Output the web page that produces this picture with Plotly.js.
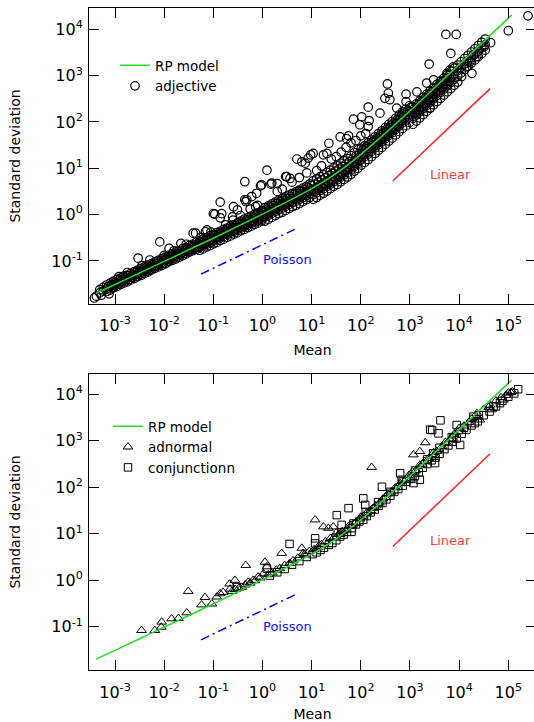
<!DOCTYPE html>
<html><head><meta charset="utf-8">
<script src="https://cdn.plot.ly/plotly-3.0.1.min.js"></script>
<style>html,body{margin:0;padding:0;overflow:hidden;background:#fff}</style>
</head><body><div id="chart" style="width:538px;height:722px"></div>
<script>
// ---------- DATA (log10 values) ----------
// Top panel: "adjective" – dense band, read column by column (log10 mean)
const bandLogMean = [-3.38,-3.31,-3.24,-3.17,-3.10,-3.03,-2.96,-2.89,-2.82,-2.75,
 -2.68,-2.61,-2.54,-2.47,-2.40,-2.33,-2.26,-2.19,-2.12,-2.05,
 -1.98,-1.91,-1.84,-1.77,-1.70,-1.63,-1.56,-1.49,-1.42,-1.35,
 -1.28,-1.21,-1.14,-1.07,-1.00,-0.93,-0.86,-0.79,-0.72,-0.65,
 -0.58,-0.51,-0.44,-0.37,-0.30,-0.23,-0.16,-0.09,-0.02,0.05,
 0.12,0.19,0.26,0.33,0.40,0.47,0.54,0.61,0.68,0.75,
 0.82,0.89,0.96,1.03,1.10,1.17,1.24,1.31,1.38,1.45,
 1.52,1.59,1.66,1.73,1.80,1.87,1.94,2.01,2.08,2.15,
 2.22,2.29,2.36,2.43,2.50,2.57,2.64,2.71,2.78,2.85,
 2.92,2.99,3.06,3.13,3.20,3.27,3.34,3.41,3.48,3.55,
 3.62,3.69,3.76,3.83,3.90,3.97,4.04,4.11,4.18,4.25,
 4.32,4.39,4.46,4.53];
// second set of band columns, in between the first ones
const bandLogMean2 = [-3.345,-3.275,-3.205,-3.135,-3.065,-2.995,-2.925,-2.855,-2.785,-2.715,
 -2.645,-2.575,-2.505,-2.435,-2.365,-2.295,-2.225,-2.155,-2.085,-2.015,
 -1.945,-1.875,-1.805,-1.735,-1.665,-1.595,-1.525,-1.455,-1.385,-1.315,
 -1.245,-1.175,-1.105,-1.035,-0.965,-0.895,-0.825,-0.755,-0.685,-0.615,
 -0.545,-0.475,-0.405,-0.335,-0.265,-0.195,-0.125,-0.055,0.015,0.085,
 0.155,0.225,0.295,0.365,0.435,0.505,0.575,0.645,0.715,0.785,
 0.855,0.925,0.995,1.065,1.135,1.205,1.275,1.345,1.415,1.485,
 1.555,1.625,1.695,1.765,1.835,1.905,1.975,2.045,2.115,2.185,
 2.255,2.325,2.395,2.465,2.535,2.605,2.675,2.745,2.815,2.885,
 2.955,3.025,3.095,3.165,3.235,3.305,3.375,3.445,3.515,3.585,
 3.655,3.725,3.795,3.865,3.935,4.005,4.075,4.145,4.215,4.285,
 4.355,4.425,4.495,4.565];
// log10 standard deviation of the band rows (first columns)
const bandLogSdA = [null,-1.62,-1.57,-1.52,-1.48,-1.44,-1.40,-1.37,-1.33,-1.31,
 -1.27,-1.23,-1.20,-1.16,-1.13,-1.09,-1.06,-1.02,-0.99,-0.95,
 -0.92,-0.88,-0.85,-0.81,-0.78,-0.74,-0.71,-0.67,-0.64,-0.60,
 -0.57,-0.53,-0.50,-0.46,-0.43,-0.39,-0.36,-0.32,-0.29,-0.25,
 -0.22,-0.18,-0.14,-0.10,-0.07,-0.03,0.01,0.04,0.08,0.15,
 0.19,0.23,0.27,0.31,0.34,0.38,0.42,0.46,0.49,0.53,
 0.57,0.61,0.66,0.73,0.77,0.82,0.86,0.91,0.96,1.01,
 1.05,1.11,1.16,1.21,1.27,1.34,1.40,1.43,1.49,1.55,
 1.61,1.68,1.75,1.81,1.88,1.95,2.01,2.08,2.15,2.22,
 2.28,2.35,2.32,2.39,2.46,2.53,2.60,2.67,2.74,2.81,
 2.88,2.95,3.02,3.09,3.16,3.23,3.30,3.37,3.44,3.51,
 3.58,3.65,3.72,3.79];
const bandLogSdB = [-1.76,-1.69,-1.65,-1.60,-1.56,-1.52,-1.48,-1.45,-1.41,-1.37,
 -1.35,-1.30,-1.27,-1.24,-1.20,-1.17,-1.13,-1.10,-1.06,-1.03,
 -0.99,-0.96,-0.92,-0.89,-0.85,-0.82,-0.78,-0.75,-0.71,-0.68,
 -0.64,-0.61,-0.57,-0.54,-0.50,-0.47,-0.43,-0.40,-0.36,-0.33,
 -0.29,-0.26,-0.22,-0.19,-0.15,-0.12,-0.08,-0.05,-0.01,0.04,
 0.08,0.12,0.16,0.20,0.23,0.27,0.31,0.35,0.38,0.42,
 0.46,0.50,0.55,0.53,0.57,0.62,0.66,0.71,0.76,0.81,
 0.85,0.91,0.96,1.01,1.07,1.14,1.20,1.31,1.37,1.43,
 1.49,1.56,1.63,1.69,1.76,1.83,1.89,1.96,2.03,2.10,
 2.16,2.23,2.20,2.27,2.34,2.41,2.48,2.55,2.62,2.69,
 2.76,2.83,2.90,2.97,3.04,3.11,3.18,3.25,3.32,3.39,
 3.46,3.53,3.60,3.67];
const bandLogSdC = [null,null,null,-1.66,-1.63,-1.58,-1.55,-1.51,-1.48,-1.45,
 -1.41,-1.38,-1.34,-1.31,-1.27,-1.24,-1.20,-1.16,-1.13,-1.10,
 -1.06,-1.02,-0.99,-0.96,-0.92,-0.89,-0.85,-0.81,-0.78,-0.75,
 -0.71,-0.68,-0.64,-0.61,-0.57,-0.54,-0.50,-0.47,-0.43,-0.40,
 -0.36,-0.33,-0.29,-0.26,-0.23,-0.19,-0.16,-0.13,-0.10,-0.05,
 -0.01,0.03,0.07,0.11,0.14,0.18,0.22,0.26,0.29,0.33,
 0.37,0.41,0.46,0.43,0.47,0.52,0.56,0.61,0.66,0.71,
 0.75,0.81,0.86,0.91,0.97,1.04,1.10,1.19,1.25,1.31,
 1.37,1.44,1.51,1.57,1.64,1.71,1.77,1.84,1.91,1.98,
 2.04,2.11,2.08,2.15,2.22,2.29,2.36,2.43,2.50,2.57,
 2.64,2.71,2.78,2.85,2.92,2.99,3.06,3.13,3.20,3.27,
 3.34,3.41,3.48,3.55];
const bandLogSdD = [null,null,null,null,null,null,null,null,null,null,
 null,null,null,null,null,null,null,null,null,null,
 null,null,null,null,null,null,null,null,null,null,
 -0.77,-0.74,-0.70,-0.67,-0.63,-0.60,-0.56,-0.53,-0.49,-0.46,
 -0.42,-0.39,-0.35,-0.32,-0.28,-0.25,-0.21,-0.18,-0.14,-0.14,
 -0.10,-0.06,-0.02,0.02,0.05,0.09,0.13,0.17,0.20,0.24,
 0.28,0.32,0.37,0.33,0.37,0.42,0.46,0.51,0.56,0.61,
 0.65,0.71,0.76,0.81,0.87,0.94,1.00,1.07,1.13,1.19,
 1.25,1.32,1.39,1.45,1.52,1.59,1.65,1.72,1.79,1.86,
 1.92,1.99,1.95,2.02,2.09,2.16,2.23,2.30,2.37,2.44,
 2.51,2.58,2.65,2.72,2.79,2.86,null,null,null,null,
 null,null,null,null];
// band rows on the in-between columns
const bandLogSdE = [null,null,null,-1.55,-1.51,-1.47,-1.43,-1.40,-1.36,-1.32,
 -1.30,-1.25,-1.22,-1.19,-1.15,-1.12,-1.08,-1.05,-1.01,-0.98,
 -0.94,-0.91,-0.87,-0.84,-0.80,-0.77,-0.73,-0.70,-0.66,-0.63,
 -0.59,-0.56,-0.52,-0.49,-0.45,-0.42,-0.38,-0.35,-0.31,-0.28,
 -0.24,-0.21,-0.17,-0.14,-0.10,-0.07,-0.03,0.00,0.04,0.12,
 0.16,0.20,0.24,0.28,0.31,0.35,0.39,0.43,0.46,0.50,
 0.54,0.58,0.63,0.66,0.70,0.75,0.79,0.84,0.89,0.94,
 0.98,1.04,1.09,1.14,1.20,1.27,1.33,1.40,1.46,1.52,
 1.58,1.65,1.72,1.78,1.85,1.92,1.98,2.05,2.12,2.19,
 2.25,2.32,2.30,2.37,2.44,2.51,2.58,2.65,2.72,2.79,
 2.86,2.93,3.00,null,null,null,null,null,null,null,
 null,null,null,null];
const bandLogSdF = [null,null,null,null,-1.58,-1.53,-1.50,-1.46,-1.43,-1.40,
 -1.36,-1.33,-1.29,-1.26,-1.22,-1.19,-1.15,-1.11,-1.08,-1.05,
 -1.01,-0.97,-0.94,-0.91,-0.87,-0.84,-0.80,-0.76,-0.73,-0.70,
 -0.66,-0.63,-0.59,-0.56,-0.52,-0.49,-0.45,-0.42,-0.38,-0.35,
 -0.31,-0.28,-0.24,-0.21,-0.18,-0.14,-0.11,-0.08,-0.05,0.02,
 0.06,0.10,0.14,0.18,0.21,0.25,0.29,0.33,0.36,0.40,
 0.44,0.48,0.53,0.51,0.55,0.60,0.64,0.69,0.74,0.79,
 0.83,0.89,0.94,0.99,1.05,1.12,1.18,1.28,1.34,1.40,
 1.46,1.53,1.60,1.66,1.73,1.80,1.86,1.93,2.00,2.07,
 2.13,2.20,2.18,2.25,2.32,2.39,2.46,2.53,2.60,2.67,
 2.74,2.81,2.88,null,null,null,null,null,null,null,
 null,null,null,null];
// Top panel: scattered "adjective" points away from the band (log10)
const adjOutLogMean = [-3.42,-3.28,-3.12,-2.92,-2.75,-2.53,-2.45,-2.29,-2.09,-2.00,-1.90,-1.80,-1.66,-1.55,-1.41,-1.36,-1.25,-1.16,-1.13,-1.05,
 -1.00,-0.97,-0.86,-0.83,-0.86,-0.75,-0.61,-0.60,-0.59,-0.51,-0.45,-0.36,-0.36,-0.34,-0.32,-0.25,-0.22,-0.14,-0.12,-0.10,-0.04,-0.02,
 0.09,0.17,0.19,0.30,0.30,0.40,0.47,0.49,0.56,0.60,0.70,0.75,0.80,0.87,0.90,0.93,0.98,1.03,1.10,1.20,1.24,1.31,1.35,1.40,1.50,1.58,1.60,1.70,1.71,1.75,1.80,1.85,1.90,1.98,2.00,2.02,2.10,2.15,2.15,2.17,
 2.39,2.49,2.54,2.56,2.59,2.73,2.92,2.92,3.14,3.20,3.34,3.39,3.41,3.48,3.73,3.94,3.83,3.75,3.81,3.88,4.05,4.15,4.22,4.26,4.29,4.36,4.51,4.64,5.00,5.40];
const adjOutLogSd = [-1.80,-1.74,-1.71,-1.34,-1.25,-0.94,-1.10,-0.98,-0.59,-0.88,-0.73,-0.78,-0.62,-0.64,-0.40,-0.40,-0.49,-0.37,-0.33,-0.38,
 0.02,0.01,0.27,0.02,-0.07,-0.22,-0.05,-0.12,0.17,0.10,-0.02,0.71,0.32,0.28,0.32,0.12,0.39,0.17,0.46,0.20,0.62,0.64,
 0.96,0.66,0.68,0.50,0.67,0.55,0.82,0.82,0.78,0.70,1.20,0.80,1.14,1.11,0.90,1.22,1.29,1.32,0.95,1.05,1.29,1.32,1.54,1.20,1.25,1.68,1.35,1.45,1.64,1.70,1.55,2.06,1.60,1.94,1.70,2.11,1.75,1.90,2.32,2.03,
 2.19,2.51,2.82,2.62,2.48,2.30,2.60,2.44,2.65,2.26,2.84,3.25,2.30,2.91,3.89,3.89,3.48,3.05,3.12,3.19,2.98,3.19,3.30,3.05,3.45,3.41,3.63,3.71,3.97,4.29];

// Bottom panel: "adnormal" (triangles), log10
const adnLogMean = [-2.46,-2.19,-2.06,-2.05,-1.85,-1.71,-1.54,-1.51,-1.24,-1.17,-1.03,-0.93,-0.86,-0.80,-0.67,-0.66,-0.62,-0.56,-0.55,-0.48,
 -0.42,-0.35,-0.34,-0.29,-0.25,-0.19,-0.15,-0.09,-0.05,0.02,0.05,0.09,0.12,0.20,0.28,0.35,0.39,0.45,0.55,0.62,
 0.72,0.80,0.83,0.85,0.95,1.05,1.07,1.12,1.20,1.24,1.28,1.34,1.38,1.44,1.46,1.50,1.55,1.62,1.70,1.75,
 1.80,1.90,1.98,2.00,2.05,2.12,2.20,2.22,2.25,2.30,2.38,2.45,2.50,2.55,2.62,2.70,2.75,2.80,2.90,2.98,
 3.00,3.05,3.07,3.12,3.20,3.20,3.25,3.30,3.31,3.38,3.48,3.50,3.55,3.65,3.72,3.75,3.82,3.90,3.98,4.00,
 4.10,4.20,4.25,4.35,4.36,4.42,4.50,4.60,4.63,4.66,4.75,4.85,4.90,4.95,5.00,5.05,5.08];
const adnLogSd = [-1.08,-1.08,-1.01,-0.90,-0.83,-0.82,-0.70,-0.24,-0.53,-0.37,-0.51,-0.36,-0.29,-0.26,-0.08,-0.19,-0.24,0.00,-0.20,-0.17,
 -0.15,-0.10,0.32,-0.04,-0.06,0.00,-0.01,0.07,0.05,0.14,0.39,0.29,0.12,0.16,0.22,0.25,0.58,0.32,0.36,0.42,
 0.48,0.69,0.58,0.55,0.62,0.66,1.30,0.70,0.77,1.15,0.83,1.12,0.90,1.15,0.93,1.02,0.99,1.05,1.08,1.16,
 1.18,1.25,1.32,1.36,1.38,1.45,1.50,2.43,1.55,1.60,1.66,1.75,1.78,1.86,1.90,1.99,2.00,2.08,2.15,2.26,
 2.18,2.33,2.70,2.36,2.48,2.77,2.50,2.56,2.96,2.62,2.75,2.68,2.78,2.88,2.97,2.95,3.03,3.14,3.20,3.27,
 3.32,3.40,3.47,3.52,3.59,3.45,3.68,3.72,3.77,3.67,3.86,3.93,3.88,3.98,4.03,4.04,4.06];
// Bottom panel: "conjunctionn" (squares), log10
const conjLogMean = [-0.52,0.09,0.15,0.30,0.45,0.55,0.60,0.75,0.90,1.02,1.07,1.07,1.10,1.18,1.25,1.35,1.42,1.50,1.51,1.58,
 1.60,1.61,1.65,1.72,1.75,1.81,1.82,1.85,1.90,1.97,2.05,2.05,2.09,2.10,2.12,2.20,2.28,2.35,2.36,2.43,
 2.44,2.52,2.60,2.60,2.68,2.76,2.80,2.83,2.85,2.85,2.93,3.02,3.07,3.10,3.10,3.18,3.20,3.26,3.35,3.35,
 3.41,3.44,3.45,3.47,3.51,3.52,3.58,3.60,3.60,3.62,3.70,3.78,3.85,3.86,3.88,3.95,3.95,4.02,4.05,4.10,
 4.15,4.25,4.29,4.32,4.38,4.40,4.50,4.62,4.70,4.75,4.83,4.88,5.00,5.12,5.20];
const conjLogSd = [-0.15,0.25,0.10,0.17,0.24,0.78,0.33,0.41,0.50,0.56,0.90,0.79,0.60,0.65,0.70,0.76,0.80,0.86,1.40,0.94,
 1.02,1.19,0.98,1.04,1.55,1.04,1.12,1.22,1.20,1.26,1.30,1.76,1.62,1.47,1.38,1.46,1.52,1.68,1.60,2.01,
 1.66,1.74,1.82,1.90,1.90,1.96,2.30,2.16,2.03,2.12,2.12,2.18,2.09,2.24,2.36,2.32,2.16,2.42,2.50,2.60,
 3.24,2.58,3.23,2.73,2.52,2.64,3.16,2.72,2.85,3.44,2.82,2.90,3.08,2.98,3.06,3.05,3.34,2.91,3.15,3.28,
 3.24,3.33,3.52,3.38,3.42,3.55,3.55,3.63,3.74,3.74,3.81,3.86,3.95,4.02,4.11];

// RP model curve (log10 mean, log10 sd)
const rpLogMean = [-3.39,-3.0,-2.5,-2.0,-1.5,-1.0,-0.5,0.0,0.5,1.0,1.5,2.0,2.5,3.0,3.5,4.0,4.5,5.07];
const rpLogSd   = [-1.70,-1.51,-1.26,-1.01,-0.76,-0.51,-0.25,0.01,0.28,0.56,0.89,1.30,1.76,2.24,2.74,3.24,3.74,4.31];
// Guide lines (end points)
const poissonMean = [0.056, 4.9],  poissonSd = [0.052, 0.50];
const linearMean  = [446, 42500],  linearSd  = [5.3, 525];
// Tick labels
const xTickExp = [-3,-2,-1,0,1,2,3,4,5];
const yTickExp = [-1,0,1,2,3,4];

// ---------- BUILD ----------
const p10 = v => Math.pow(10, v);
function pairs(xs, ys) {
  const X = [], Y = [];
  xs.forEach((x, i) => { if (ys[i] !== null && ys[i] !== undefined) { X.push(p10(x)); Y.push(p10(ys[i])); } });
  return [X, Y];
}
let adjX = [], adjY = [];
function addAdj(xs, ys) { const [X, Y] = pairs(xs, ys); adjX = adjX.concat(X); adjY = adjY.concat(Y); }
[bandLogSdA, bandLogSdB, bandLogSdC, bandLogSdD].forEach(row => addAdj(bandLogMean, row));
[bandLogSdE, bandLogSdF].forEach(row => addAdj(bandLogMean2, row));
addAdj(adjOutLogMean, adjOutLogSd);
const [adnX, adnY] = pairs(adnLogMean, adnLogSd);
const [conjX, conjY] = pairs(conjLogMean, conjLogSd);
const [rpX, rpY] = pairs(rpLogMean, rpLogSd);

const FONT = 'DejaVu Sans';
const GREEN = '#22dd22';
const mk = (sym, size, lw) => ({symbol: sym, size: size, color: '#000', line: {color: '#000', width: lw}});

const traces = [];
function panel(xa, ya, lg, pts) {
  pts.forEach((p, i) => traces.push({x: p.x, y: p.y, xaxis: xa, yaxis: ya, type: 'scatter', mode: 'markers',
    name: p.name, marker: mk(p.sym, p.size, p.lw), legend: lg, legendgroup: lg + p.name, legendrank: 2 + i}));
  traces.push({x: poissonMean, y: poissonSd, xaxis: xa, yaxis: ya, mode: 'lines', showlegend: false,
    line: {color: '#0000ff', width: 1.5, dash: '9px,4px,2px,4px'}});
  traces.push({x: linearMean, y: linearSd, xaxis: xa, yaxis: ya, mode: 'lines', showlegend: false,
    line: {color: '#ff2020', width: 1.5}});
  traces.push({x: rpX, y: rpY, xaxis: xa, yaxis: ya, mode: 'lines', name: 'RP model', legend: lg,
    legendgroup: lg + 'rp', legendrank: 1, line: {color: GREEN, width: 1.5, shape: 'spline', smoothing: 1}});
}
panel('x', 'y', 'legend', [{x: adjX, y: adjY, name: 'adjective', sym: 'circle-open', size: 8.5, lw: 1.2}]);
panel('x2', 'y2', 'legend2', [
  {x: adnX, y: adnY, name: 'adnormal', sym: 'triangle-up-open', size: 8.5, lw: 1},
  {x: conjX, y: conjY, name: 'conjunctionn', sym: 'square-open', size: 7.5, lw: 1}]);

const W = 538, H = 722;
function xAxis(anchor) {
  return {type: 'log', range: [-3.529, 5.563], domain: [89 / W, 536 / W], anchor: anchor,
    showline: true, linecolor: '#000', linewidth: 1, mirror: 'ticks', ticks: 'inside', ticklen: 10,
    tickwidth: 1, tickcolor: '#000', showgrid: false, zeroline: false, ticklabelstandoff: 7,
    tickmode: 'array', tickvals: xTickExp.map(p10), ticktext: xTickExp.map(e => '10<sup>' + e + '</sup>'),
    tickfont: {family: FONT, size: 16, color: '#000'},
    title: {text: 'Mean', font: {family: FONT, size: 14, color: '#000'}, standoff: 10}};
}
function yAxis(anchor, range, top, bot) {
  return {type: 'log', range: range, domain: [(H - bot) / H, (H - top) / H], anchor: anchor,
    showline: true, linecolor: '#000', linewidth: 1, mirror: 'ticks', ticks: 'inside', ticklen: 10,
    tickwidth: 1, tickcolor: '#000', showgrid: false, zeroline: false, ticklabelstandoff: 2,
    tickmode: 'array', tickvals: yTickExp.map(p10), ticktext: yTickExp.map(e => '10<sup>' + e + '</sup>'),
    tickfont: {family: FONT, size: 16, color: '#000'},
    title: {text: 'Standard deviation', font: {family: FONT, size: 14, color: '#000'}, standoff: 27}};
}
const legendStyle = (xPx, yPx) => ({x: xPx / W, y: (H - yPx) / H, xanchor: 'left', yanchor: 'top',
  bgcolor: 'rgba(0,0,0,0)', borderwidth: 0, font: {family: FONT, size: 13.5, color: '#000'},
  tracegroupgap: 0, traceorder: 'grouped', itemwidth: 30});

const txt = (x, y, s, c, xr, yr) => ({x: x, y: y, xref: xr, yref: yr, text: s, showarrow: false,
  font: {family: FONT, size: 13, color: c}});

const layout = {
  width: W, height: H, margin: {l: 0, r: 0, t: 0, b: 0}, paper_bgcolor: '#fff', plot_bgcolor: '#fff',
  showlegend: true,
  xaxis: xAxis('y'), yaxis: yAxis('x', [-1.93, 4.46], 8, 304),
  xaxis2: xAxis('y2'), yaxis2: yAxis('x2', [-1.94, 4.444], 373.7, 670.3),
  legend: legendStyle(115, 50), legend2: legendStyle(108, 411),
  annotations: [
    txt(3.829, 0.87, 'Linear', '#ff4040', 'x', 'y'),
    txt(0.499, -0.98, 'Poisson', '#1010ff', 'x', 'y'),
    txt(3.829, 0.858, 'Linear', '#ff4040', 'x2', 'y2'),
    txt(0.499, -0.99, 'Poisson', '#1010ff', 'x2', 'y2')
  ]
};
Plotly.newPlot('chart', traces, layout, {displayModeBar: false, staticPlot: true});
</script></body></html>
